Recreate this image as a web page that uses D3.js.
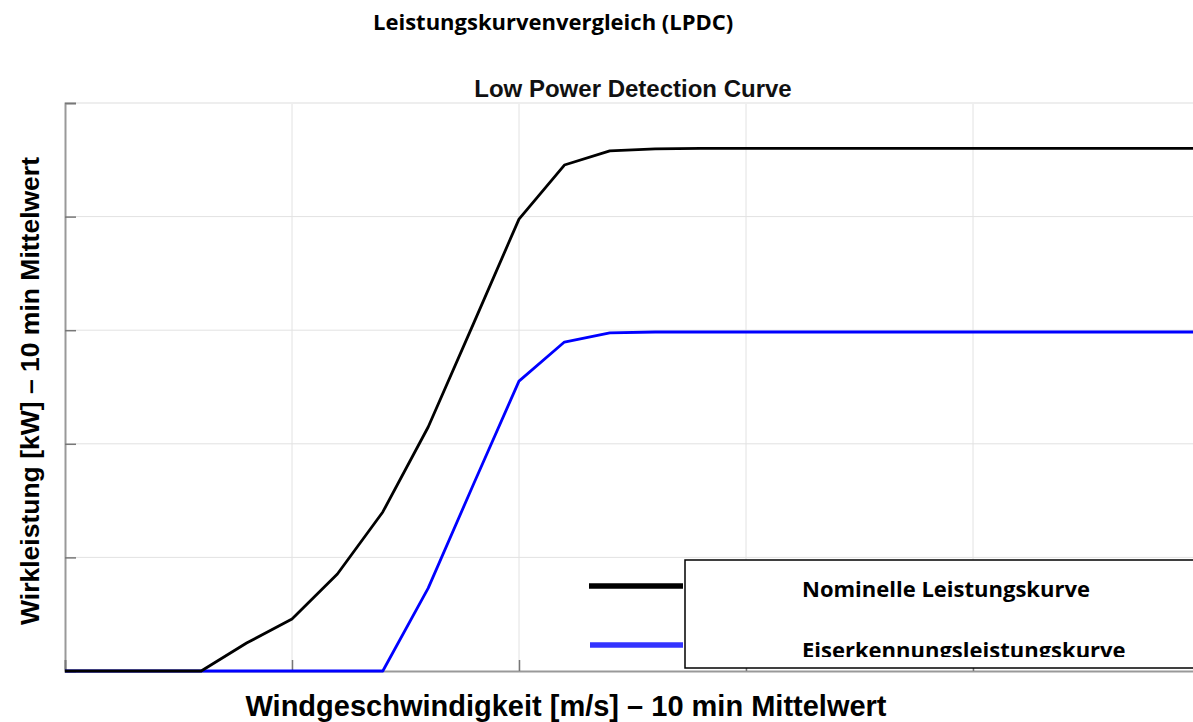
<!DOCTYPE html>
<html>
<head>
<meta charset="utf-8">
<script src="https://cdn.jsdelivr.net/npm/d3@7/dist/d3.min.js"></script>
<style>
  html, body { margin: 0; padding: 0; background: #fff; }
  svg { display: block; }
</style>
</head>
<body>
<svg id="chart" width="1193" height="722"></svg>
<script>
// ---- data ----
const windSpeed = [0,1,2,3,4,5,6,7,8,9,10,11,12,13,14,15,16,17,18,19,20,21,22,23,24,25];
const nominalPower = [0,0,0,0,123,229,427,700,1074,1530,1989,2227,2289,2298,2300,2300,2300,2300,2300,2300,2300,2300,2300,2300,2300,2300];
const icePower     = [0,0,0,0,0,0,0,0,365,823,1276,1448,1488,1492,1492,1492,1492,1492,1492,1492,1492,1492,1492,1492,1492,1492];
const xTicks = [0,5,10,15,20,25];
const yTicks = [0,500,1000,1500,2000,2500];
const seriesNames = ["Nominelle Leistungskurve", "Eiserkennungsleistungskurve"];

const title = "Leistungskurvenvergleich (LPDC)";
const subtitle = "Low Power Detection Curve";
const xLabel = "Windgeschwindigkeit [m/s] \u2013 10 min Mittelwert";
const yLabel = "Wirkleistung [kW] \u2013 10 min Mittelwert";

// ---- layout ----
const svg = d3.select("#chart");
const L = 65, T = 103, R = 1200, B = 671;
const x = d3.scaleLinear().domain([0,25]).range([L,R]);
const y = d3.scaleLinear().domain([0,2500]).range([B,T]);

const defs = svg.append("defs");
defs.append("clipPath").attr("id","plotclip")
  .append("rect").attr("x",L).attr("y",T-2).attr("width",R-L).attr("height",B-T+4);
defs.append("clipPath").attr("id","legclip")
  .append("rect").attr("x",686).attr("y",561).attr("width",600).attr("height",96);

// grid
const g = svg.append("g");
g.selectAll(".vg").data(xTicks.slice(1)).enter().append("line")
  .attr("x1",d=>x(d)).attr("x2",d=>x(d)).attr("y1",T).attr("y2",B)
  .attr("stroke","#e2e2e2").attr("stroke-width",1);
g.selectAll(".hg").data(yTicks.slice(1,-1)).enter().append("line")
  .attr("x1",L).attr("x2",R).attr("y1",d=>y(d)).attr("y2",d=>y(d))
  .attr("stroke","#e2e2e2").attr("stroke-width",1);
g.append("line").attr("x1",L).attr("x2",R).attr("y1",T).attr("y2",T)
  .attr("stroke","#eeeeee").attr("stroke-width",2);

// axes with inward ticks
const yAxis = d3.axisLeft(y).tickValues(yTicks).tickSize(-11).tickFormat("");
const xAxis = d3.axisBottom(x).tickValues(xTicks).tickSize(-11).tickFormat("");
const ya = svg.append("g").attr("transform",`translate(${L},0)`).call(yAxis);
const xa = svg.append("g").attr("transform",`translate(0,${B})`).call(xAxis);
[ya,xa].forEach(a=>{
  a.select(".domain").attr("stroke","#999").attr("stroke-width",2);
  a.selectAll(".tick line").attr("stroke","#777").attr("stroke-width",1.5);
});

// lines
const line = d3.line().x((d,i)=>x(windSpeed[i])).y(d=>y(d));
const lines = svg.append("g").attr("clip-path","url(#plotclip)");
lines.append("path").datum(icePower).attr("d",line)
  .attr("fill","none").attr("stroke","#0000ff").attr("stroke-width",2.8).attr("stroke-linejoin","round");
lines.append("path").datum(nominalPower).attr("d",line)
  .attr("fill","none").attr("stroke","#000").attr("stroke-width",2.8).attr("stroke-linejoin","round");

// legend
svg.append("line").attr("x1",589).attr("x2",683).attr("y1",586).attr("y2",586)
  .attr("stroke","#000").attr("stroke-width",5.5);
svg.append("line").attr("x1",590).attr("x2",683).attr("y1",645).attr("y2",645)
  .attr("stroke","#3333ff").attr("stroke-width",5.5);
svg.append("rect").attr("x",685).attr("y",560).attr("width",600).attr("height",108)
  .attr("fill","#fff").attr("stroke","#000").attr("stroke-width",1.5);
const lg = svg.append("g").attr("clip-path","url(#legclip)");
const legFont = "'Open Sans', Lato, sans-serif";
lg.append("text").attr("x",802).attr("y",597).text(seriesNames[0])
  .attr("font-family",legFont).attr("font-weight","bold").attr("font-size",22).attr("fill","#000");
lg.append("text").attr("x",802).attr("y",658).text(seriesNames[1])
  .attr("font-family",legFont).attr("font-weight","bold").attr("font-size",22).attr("fill","#000");

// titles
svg.append("text").attr("x",373).attr("y",30).text(title)
  .attr("font-family",legFont).attr("font-weight","bold").attr("font-size",22).attr("fill","#000");
svg.append("text").attr("x",633).attr("y",97).attr("text-anchor","middle").text(subtitle)
  .attr("font-family","'Liberation Sans', Arial, sans-serif").attr("font-weight","bold").attr("font-size",24).attr("fill","#111");
svg.append("text").attr("x",566).attr("y",716).attr("text-anchor","middle").text(xLabel)
  .attr("font-family","'Liberation Sans', Arial, sans-serif").attr("font-weight","bold").attr("font-size",29).attr("fill","#000");
svg.append("text").attr("transform","translate(39,391) rotate(-90)").attr("text-anchor","middle").text(yLabel)
  .attr("font-family","'Liberation Sans', Arial, sans-serif").attr("font-weight","bold").attr("font-size",26.5).attr("fill","#000");
</script>
</body>
</html>
